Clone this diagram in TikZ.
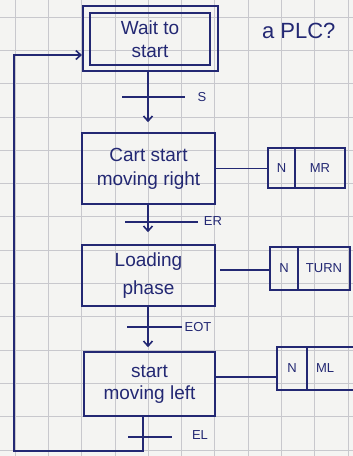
\documentclass[tikz,border=0pt]{standalone}
\usepackage{fontspec}
\setmainfont{Liberation Sans}
\usetikzlibrary{arrows.meta}
\definecolor{ink}{RGB}{35,40,115}
\definecolor{paper}{RGB}{244,244,242}
\definecolor{gridc}{RGB}{200,200,205}
\begin{document}
\begin{tikzpicture}[x=1pt,y=-1pt,
  inkline/.style={draw=ink, line width=1.6pt},
  stepbox/.style={inkline, rectangle, inner sep=0pt, align=center, text=ink, font=\fontsize{19}{24}\selectfont},
  act/.style={inkline, rectangle, inner sep=0pt, outer sep=0pt, text=ink, font=\fontsize{13}{15}\selectfont},
  lbl/.style={text=ink, font=\fontsize{13}{15}\selectfont, inner sep=0pt},
  arr/.style={inkline, -{Straight Barb[length=5pt,width=9pt]}},
  ]
\fill[paper] (0,0) rectangle (353,456);
\useasboundingbox (0,0) rectangle (353,456);
\clip (0,0) rectangle (353,456);
\foreach \i in {0,...,10} \draw[gridc, line width=0.8pt] (15+33.3*\i,0) -- (15+33.3*\i,456);
\foreach \i in {0,...,13} \draw[gridc, line width=0.8pt] (0,17+33.3*\i) -- (353,17+33.3*\i);

% steps
\node[inkline, rectangle, minimum width=135.4pt, minimum height=65.4pt] (wo) at (150.5,38.5) {};
\node[stepbox, minimum width=120.4pt, minimum height=52.4pt, font=\fontsize{19}{23}\selectfont] (w) at (150,39) {Wait to\\start};
\node[stepbox, minimum width=133pt, minimum height=71pt] (b2) at (148.5,168.5) {Cart start\\moving right};
\node[stepbox, minimum width=133pt, minimum height=61pt, font=\fontsize{19}{28}\selectfont] (b3) at (148.5,275.5) {Loading\\phase};
\node[stepbox, minimum width=131pt, minimum height=64pt, font=\fontsize{19}{22}\selectfont] (b4) at (149.5,384) {start\\moving left};

% title
\node[anchor=west, text=ink, font=\fontsize{22}{24}\selectfont, inner sep=0pt] (plc) at (262,31) {a\hspace{6pt}PLC?};

% transitions
\coordinate (t1) at (148,97);
\coordinate (t2) at (148,222);
\coordinate (t3) at (148,327);
\coordinate (t4) at (143,437);

\draw[arr, shorten >=10pt] (wo.south -| t1) -- (b2.north -| t1);
\draw[inkline] ([xshift=-26pt]t1) -- ([xshift=37pt]t1);
\node[lbl] (s) at (202,97) {S};

\draw[arr, shorten >=12pt] (b2.south -| t2) -- (b3.north -| t2);
\draw[inkline] ([xshift=-23pt]t2) -- ([xshift=50pt]t2);
\node[lbl] (er) at (213,221) {ER};

\draw[arr, shorten >=4pt] (b3.south -| t3) -- (b4.north -| t3);
\draw[inkline] ([xshift=-21pt]t3) -- ([xshift=34pt]t3);
\node[lbl] (eot) at (198,327) {EOT};

\coordinate (c1) at (143,451);
\coordinate (c2) at (14,451);
\coordinate (c3) at (14,55);
\draw[arr] (b4.south -| t4) -- (c1) -- (c2) -- (c3) -- (c3 -| wo.west);
\draw[inkline] ([xshift=-15pt]t4) -- ([xshift=29pt]t4);
\node[lbl] (el) at (200,435) {EL};

% actions
\node[act, minimum width=27pt, minimum height=40pt] (a2n) at (281.5,168) {N};
\node[act, minimum width=50pt, minimum height=40pt, anchor=west] (a2m) at (a2n.east) {MR};
\draw[inkline] (b2.east) -- (b2.east -| a2n.west);

\node[act, minimum width=28pt, minimum height=43pt] (a3n) at (284,268.5) {N};
\node[act, minimum width=52pt, minimum height=43pt, anchor=west] (a3m) at (a3n.east) {TURN};
\coordinate (k3) at (220,270);
\draw[inkline] (k3) -- (k3 -| a3n.west);

\node[act, minimum width=30pt, minimum height=43pt] (a4n) at (292,368.5) {N};
\node[act, minimum width=60pt, minimum height=43pt, anchor=west, text width=50pt, align=left] (a4m) at (a4n.east) {\hspace{4pt}ML};
\coordinate (k4) at (215,377);
\draw[inkline] (k4) -- (k4 -| a4n.west);
\end{tikzpicture}
\end{document}
